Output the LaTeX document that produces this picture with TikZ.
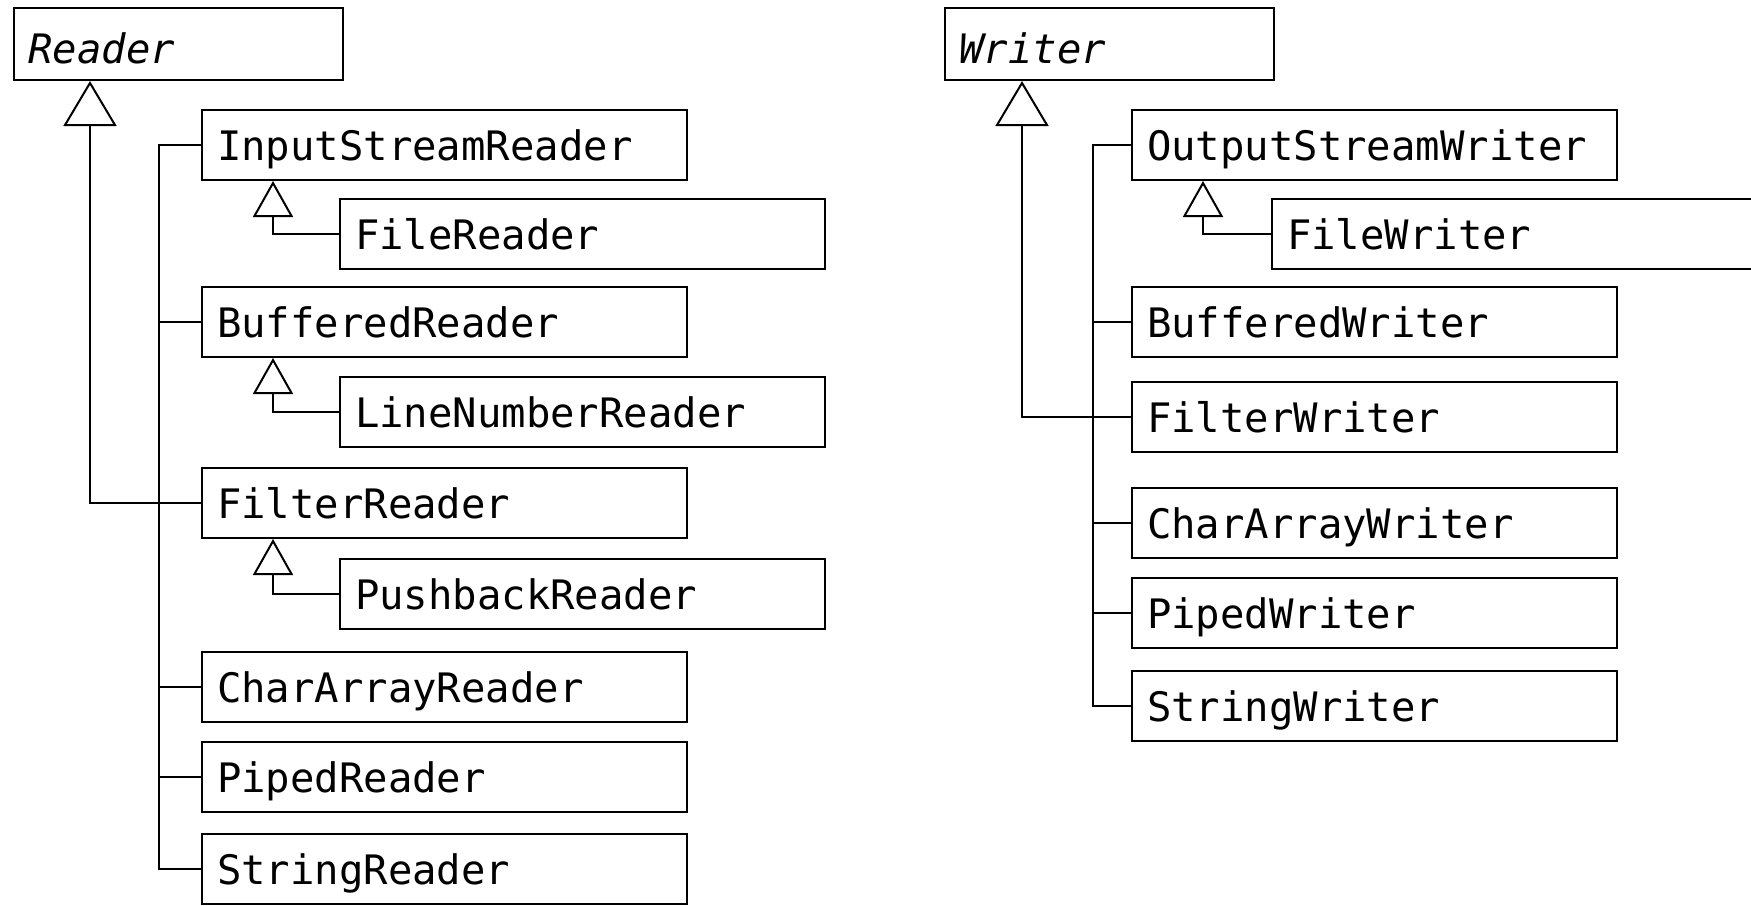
\documentclass[tikz,border=0pt]{standalone}
\usepackage{fontspec}
\setmonofont{DejaVu Sans Mono}
\usetikzlibrary{arrows.meta, calc}

\begin{document}
\begin{tikzpicture}[x=0.5pt, y=-0.5pt, line width=1pt,
		cls/.style={draw, anchor=north west, minimum width=242.5pt, minimum height=35pt,
			inner xsep=7.5pt, text width=227.5pt, align=left, text height=17pt, text depth=2pt,
			font=\ttfamily\fontsize{20.3}{24}\selectfont},
		abstr/.style={cls, minimum width=164.5pt, minimum height=36pt, text width=150pt,
			inner xsep=7pt, text height=19.5pt, text depth=0pt,
			font=\ttfamily\itshape\fontsize{20.3}{24}\selectfont},
		inherit/.style={-{Triangle[open, width=26.5pt, length=22.5pt]}},
		inheritsmall/.style={-{Triangle[open, width=20pt, length=18pt]}}]
		
		% Fix the frame of the picture
		\useasboundingbox (0,0) rectangle (1751,905);
		\clip (0,0) rectangle (1751,905);
		
		% Reader hierarchy
		\node[abstr] (reader) at (13,7) {Reader};
		\node[cls] (inR) at (201,109) {InputStreamReader};
		\node[cls] (fileR) at (339,198) {FileReader};
		\node[cls] (bufR) at (201,286) {BufferedReader};
		\node[cls] (lnR) at (339,376) {LineNumberReader};
		\node[cls] (filR) at (201,467) {FilterReader};
		\node[cls] (pbR) at (339,558) {PushbackReader};
		\node[cls] (caR) at (201,651) {CharArrayReader};
		\node[cls] (piR) at (201,741) {PipedReader};
		\node[cls] (stR) at (201,833) {StringReader};
		
		% Writer hierarchy
		\node[abstr] (writer) at (944,7) {Writer};
		\node[cls] (osW) at (1131,109) {OutputStreamWriter};
		\node[cls] (fW) at (1271,198) {FileWriter};
		\node[cls] (bW) at (1131,286) {BufferedWriter};
		\node[cls] (ftW) at (1131,381) {FilterWriter};
		\node[cls] (caW) at (1131,487) {CharArrayWriter};
		\node[cls] (piW) at (1131,577) {PipedWriter};
		\node[cls] (sW) at (1131,670) {StringWriter};
		
		% Bus lines joining the subclasses
		\draw (inR.west) -- ++(-42,0) |- (stR.west);
		\foreach \n in {bufR, caR, piR}
			\draw (\n.west) -- ++(-42,0);
		\draw (osW.west) -- ++(-38,0) |- (sW.west);
		\foreach \n in {bW, caW, piW}
			\draw (\n.west) -- ++(-38,0);
		
		% Generalisation arrows to the base classes
		\draw[inherit] (filR.west) -| ($(reader.south west)+(77,0)$);
		\draw[inherit] (ftW.west) -| ($(writer.south west)+(78,0)$);
		
		% Generalisation arrows to the middle classes
		\draw[inheritsmall] (fileR.west) -| ($(inR.south west)+(72,0)$);
		\draw[inheritsmall] (lnR.west) -| ($(bufR.south west)+(72,0)$);
		\draw[inheritsmall] (pbR.west) -| ($(filR.south west)+(72,0)$);
		\draw[inheritsmall] (fW.west) -| ($(osW.south west)+(72,0)$);
		
	\end{tikzpicture}
\end{document}
